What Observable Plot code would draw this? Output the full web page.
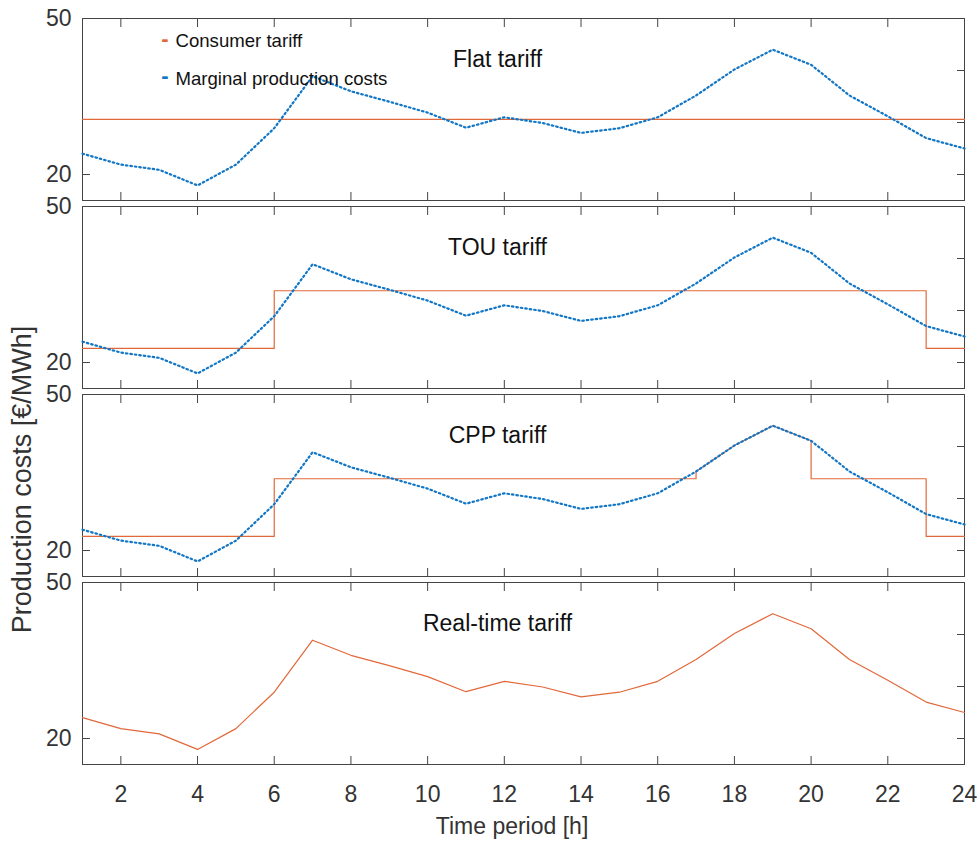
<!DOCTYPE html>
<html><head><meta charset="utf-8">
<script src="https://cdn.jsdelivr.net/npm/d3@7"></script>
<script src="https://cdn.jsdelivr.net/npm/@observablehq/plot@0.6"></script>
<style>
body{margin:0;background:#fff;}
#chart{width:977px;height:845px;}
</style></head><body><div id="chart"></div>
<script>
// ---- data ----
const panels = ["Flat tariff", "TOU tariff", "CPP tariff", "Real-time tariff"];
const hours = [1,2,3,4,5,6,7,8,9,10,11,12,13,14,15,16,17,18,19,20,21,22,23,24];
const marginalCost = [24.0,21.9,20.9,17.9,21.9,28.9,38.9,36.0,34.0,31.9,29.0,31.0,29.9,28.0,28.9,31.0,35.2,40.2,44.0,41.1,35.2,31.2,27.0,25.0];
const flatHours = [1, 24];
const flatTariff = [30.6, 30.6];
const touHours = [1, 6, 6, 23, 23, 24];
const touTariff = [22.7, 22.7, 33.8, 33.8, 22.7, 22.7];
const cppHours = [1, 6, 6, 17, 17, 18, 19, 20, 20, 23, 23, 24];
const cppTariff = [22.7, 22.7, 33.8, 33.8, 35.2, 40.2, 44.0, 41.1, 33.8, 33.8, 22.7, 22.7];
const realTimeHours = hours;
const realTimeTariff = [24.0,21.9,20.9,17.9,21.9,28.9,38.9,36.0,34.0,31.9,29.0,31.0,29.9,28.0,28.9,31.0,35.2,40.2,44.0,41.1,35.2,31.2,27.0,25.0];
const xTicks = [2,4,6,8,10,12,14,16,18,20,22,24];
const yLabelTicks = [20, 50];
const yRightTicks = [20, 30, 40];
const legendLabels = ["Consumer tariff", "Marginal production costs"];
const xLabel = "Time period [h]";
const yLabel = "Production costs [€/MWh]";

// ---- tables ----
const rows = (panel, xs, ys) => xs.map((h, i) => ({panel, hour: h, value: ys[i]}));
const tariffRows = [
  ...rows(panels[0], flatHours, flatTariff),
  ...rows(panels[1], touHours, touTariff),
  ...rows(panels[2], cppHours, cppTariff),
  ...rows(panels[3], realTimeHours, realTimeTariff)
];
const marginalRows = [
  ...rows(panels[0], hours, marginalCost),
  ...rows(panels[1], hours, marginalCost),
  ...rows(panels[2], hours, marginalCost)
];

const ORANGE = "#E2683A";
const BLUE = "#1176C6";
const AXIS = "#444";
const TXT = "#333";

const chart = Plot.plot({
  width: 977,
  height: 845,
  marginTop: 17,
  marginBottom: 79,
  marginLeft: 82,
  marginRight: 13,
  style: {fontFamily: "'Liberation Sans', Arial, sans-serif", background: "#fff", color: TXT},
  x: {domain: [1, 24], axis: null},
  y: {domain: [15, 50], axis: null},
  fy: {domain: panels, axis: null, paddingInner: 0.03, paddingOuter: 0},
  marks: [
    Plot.frame({stroke: AXIS, strokeWidth: 1}),
    // inward ticks
    Plot.axisX({anchor: "top", ticks: xTicks, tickSize: 8, dy: 8, fill: "none", stroke: AXIS, label: null, facetAnchor: null}),
    Plot.axisX({anchor: "bottom", ticks: xTicks, tickSize: 8, dy: -8, fill: "none", stroke: AXIS, label: null, facetAnchor: null}),
    Plot.axisY({anchor: "right", ticks: yRightTicks, tickSize: 8, dx: -8, fill: "none", stroke: AXIS, label: null, facetAnchor: null}),
    Plot.axisY({anchor: "left", ticks: [20], tickSize: 8, dx: 8, fill: "none", stroke: AXIS, label: null, facetAnchor: null}),
    // tick labels
    Plot.axisX({anchor: "bottom", ticks: xTicks, tickSize: 0, tickPadding: 21, fontSize: 23, fill: TXT, label: null}),
    Plot.axisY({anchor: "left", ticks: yLabelTicks, tickSize: 0, tickPadding: 11, fontSize: 23, fill: TXT, label: null, facetAnchor: null}),
    // data
    Plot.line(tariffRows, {x: "hour", y: "value", fy: "panel", stroke: ORANGE, strokeWidth: 1.2}),
    Plot.line(marginalRows, {x: "hour", y: "value", fy: "panel", stroke: BLUE, strokeWidth: 2.2, strokeDasharray: "1.5,3"}),
    // titles
    Plot.text(panels, {fy: d => d, text: d => d, frameAnchor: "top", dx: -26, dy: 41, fontSize: 23, lineAnchor: "middle", fill: "#111"}),
    // legend
    Plot.text([legendLabels[0]], {fy: () => panels[0], text: d => d, frameAnchor: "top-left", dx: 93, dy: 23, textAnchor: "start", lineAnchor: "middle", fontSize: 18.6, fill: "#111"}),
    Plot.text([legendLabels[1]], {fy: () => panels[0], text: d => d, frameAnchor: "top-left", dx: 93, dy: 60.5, textAnchor: "start", lineAnchor: "middle", fontSize: 18.6, fill: "#111"}),
    Plot.text(["-"], {fy: () => panels[0], text: d => d, frameAnchor: "top-left", dx: 82.5, dy: 20, textAnchor: "middle", lineAnchor: "middle", fontSize: 22, fontWeight: "bold", fill: ORANGE}),
    Plot.text(["-"], {fy: () => panels[0], text: d => d, frameAnchor: "top-left", dx: 82.5, dy: 57, textAnchor: "middle", lineAnchor: "middle", fontSize: 22, fontWeight: "bold", fill: BLUE}),
    // axis titles
    Plot.text([xLabel], {facet: "super", text: d => d, frameAnchor: "bottom", dx: -11.5, dy: 62, fontSize: 23, textAnchor: "middle", lineAnchor: "middle", fill: TXT}),
    Plot.text([yLabel], {facet: "super", text: d => d, frameAnchor: "left", dx: -60, dy: 88, rotate: -90, fontSize: 27, textAnchor: "middle", lineAnchor: "middle", fill: TXT})
  ]
});
document.getElementById("chart").appendChild(chart);
</script></body></html>
